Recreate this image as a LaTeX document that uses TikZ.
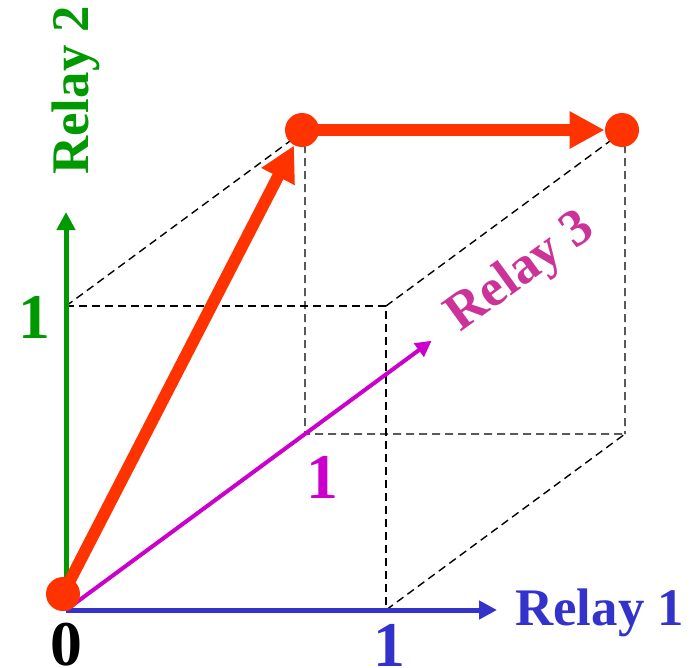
\documentclass[tikz,border=0pt]{standalone}
\usepackage{fontspec}
\setmainfont{Liberation Serif}
\usepackage{xcolor}
\usetikzlibrary{arrows.meta, calc}

\definecolor{relayblue}{RGB}{51,51,204}
\definecolor{relaygreen}{RGB}{0,153,0}
\definecolor{relaymag}{RGB}{204,0,204}
\definecolor{relaypink}{RGB}{204,51,153}
\definecolor{pathred}{RGB}{255,51,0}

\begin{document}
\begin{tikzpicture}[
  x=0.5bp, y=-0.5bp,
  lbl/.style={font=\fontsize{26.5}{30}\selectfont\bfseries, inner sep=0pt},
  num/.style={font=\fontsize{32}{36}\selectfont\bfseries, inner sep=0pt},
  axis/.style={line width=2.5bp, -{Triangle[length=9bp, width=9bp]}},
  guide/.style={line width=0.7bp, dash pattern=on 4bp off 2.5bp},
  vec/.style={line width=6bp, pathred, -{Triangle[length=17.5bp, width=17.5bp]}},
  dot/.style={circle, fill=pathred, minimum size=17bp, inner sep=0pt},
]
  \useasboundingbox (0,0) rectangle (694,668);

  % corners of the unit cube
  \coordinate (o)   at (66,610);
  \coordinate (x1)  at (386,610);
  \coordinate (y1)  at (66,306);
  \coordinate (z1)  at (305,434);
  \coordinate (xy)  at (386,306);
  \coordinate (xz)  at (625,434);
  \coordinate (yz)  at (305,130);
  \coordinate (xyz) at (625,130);

  \draw[guide] (y1) -- (xy) -- (x1);
  \draw[guide] (y1) -- (yz) -- (z1) -- (xz) -- (x1);
  \draw[guide] (xy) -- (xyz) -- (xz);

  % axes
  \coordinate (xend) at (497,610);
  \coordinate (yend) at (66,212);
  \coordinate (zend) at ($(o)!1.53!(z1)$);
  \draw[axis, relayblue]  (o) -- (xend);
  \draw[axis, relaygreen] (o) -- (yend);
  \draw[line width=2bp, relaymag, -{Triangle[length=8bp, width=8bp]}] (o) -- (zend);

  \node[lbl, relayblue, anchor=base west] (r1) at (515,625) {Relay 1};
  \node[lbl, relaygreen, anchor=base west, rotate=90] (r2) at (88,175) {Relay 2};
  \node[lbl, relaypink, anchor=base west, rotate=36] (r3) at (460,333) {Relay 3};

  \node[num, anchor=base] (n0) at (66,665) {0};
  \node[num, relayblue, anchor=base] (nx) at (389,666) {1};
  \node[num, relaygreen, anchor=base] (ny) at (34,338) {1};
  \node[num, relaymag, anchor=base] (nz) at (322,498) {1};

  % switching path
  \node[dot] (p0) at (63,594) {};
  \node[dot] (p1) at (302,130) {};
  \node[dot] (p2) at (622,130) {};
  \draw[vec] (p0.center) -- (p1);
  \draw[vec] (p1.center) -- (p2);
\end{tikzpicture}
\end{document}
